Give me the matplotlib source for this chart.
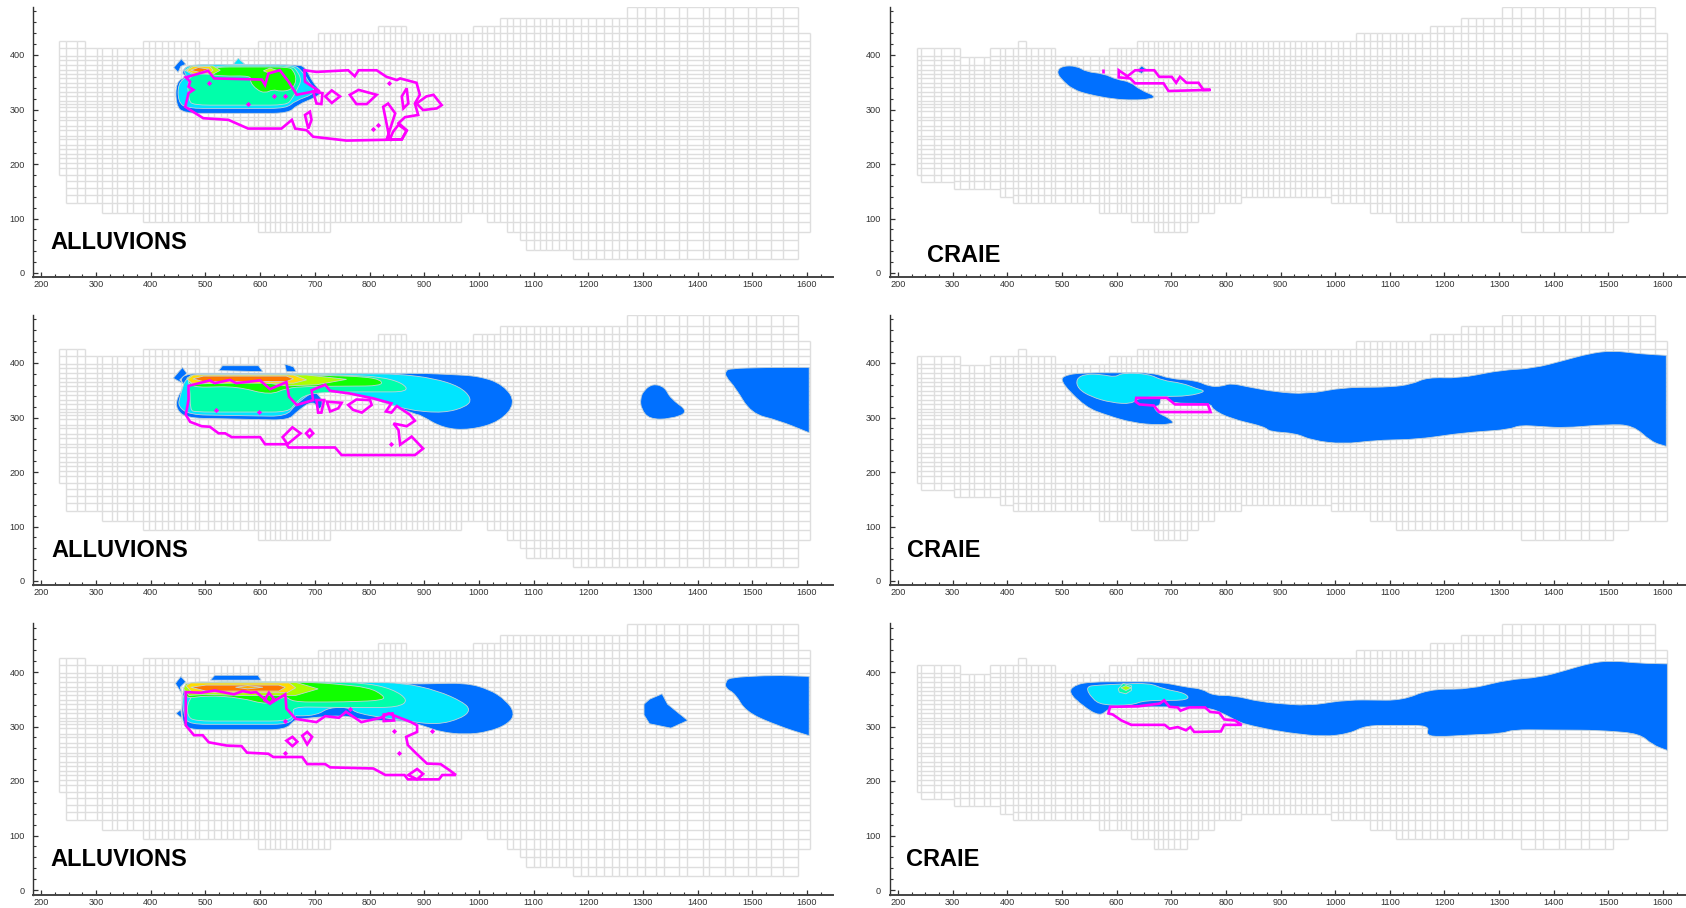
import matplotlib
matplotlib.use("Agg")
import matplotlib.pyplot as plt
from matplotlib.collections import LineCollection
from matplotlib.patches import PathPatch, Polygon
from matplotlib.path import Path
from matplotlib.ticker import MultipleLocator
import numpy as np

plt.rcParams["font.family"] = ["Liberation Sans", "DejaVu Sans"]

W, H = 1686, 908

# mesh lines
grid_x = [232, 244, 266, 278, 301, 311, 330, 339, 357, 368, 384, 396, 408, 420, 432, 443, 456, 467, 480, 490,
          505, 516, 528, 539, 551, 563, 577, 588, 600, 609, 618, 627, 637, 648, 658, 667, 676, 685, 694, 706,
          716, 726, 737, 746, 756, 767, 777, 787, 798, 807, 817, 827, 837, 847, 857, 868, 877, 886, 897, 907,
          917, 927, 938, 947, 958, 967, 981, 991, 1005, 1014, 1028, 1039, 1052, 1063, 1076, 1086, 1100, 1111,
          1123, 1134, 1147, 1159, 1173, 1186, 1200, 1215, 1229, 1243, 1257, 1270, 1290, 1304, 1324, 1339, 1366,
          1381, 1409, 1421, 1450, 1464, 1493, 1507, 1535, 1557, 1584, 1606]
grid_y = [488, 468, 454, 440, 425, 412, 399, 390, 382, 373, 366, 358, 349, 341, 333, 324, 315, 311, 305, 297,
          287, 280, 270, 263, 252, 245, 235, 228, 219, 211, 202, 193, 180, 168, 156, 144, 128, 110, 93, 76,
          60, 43, 26]

# mesh envelope, alluvions layer
all_bot_x = [232, 245, 311, 385, 596, 727, 968, 1014, 1052, 1076, 1086, 1172, 1584, 1606]
all_bot_y = [179, 128, 110, 93, 76, 93, 110, 93, 76, 60, 43, 26, 76]
all_top_x = [232, 279, 385, 488, 596, 705, 816, 867, 990, 1038, 1270, 1584, 1606]
all_top_y = [425, 412, 425, 412, 425, 440, 454, 440, 454, 468, 488, 440]

# mesh envelope, craie layer
cr_bot_x = [234, 243, 302, 386, 410, 567, 627, 668, 728, 749, 778, 828, 992, 1063, 1111, 1340, 1508, 1536, 1608]
cr_bot_y = [179, 167, 155, 139, 128, 110, 93, 76, 93, 110, 128, 139, 128, 110, 93, 76, 93, 110]
cr_top_x = [234, 313, 368, 419, 434, 488, 587, 637, 1039, 1173, 1230, 1305, 1586, 1608]
cr_top_y = [412, 396, 412, 425, 412, 398, 412, 425, 440, 454, 468, 488, 440]

x_ticks = [200, 300, 400, 500, 600, 700, 800, 900, 1000, 1100, 1200, 1300, 1400, 1500, 1600]
y_ticks = [0, 100, 200, 300, 400]

BLUE = "#0070ff"
CYAN = "#00e5ff"
SPRING = "#00ffaa"
GREEN = "#11ff00"
LIME = "#aaff00"
YELLOW = "#ffdd00"
ORANGE = "#ff7700"
PINK = "#ff00ff"

# ---- alluvions, top
a1_blue = [(446, 351), (446, 308), (460, 293), (652, 293), (667, 308), (706, 324), (712, 333), (697, 348),
           (682, 379), (667, 382), (466, 382), (456, 366), (466, 361)]
a1_diamond = [(442, 377), (456, 393), (464, 383), (455, 379), (450, 368)]
a1_bump = [(551, 383), (560, 394), (572, 383)]
a1_cyan = [(450, 348), (450, 314), (466, 302), (648, 302), (664, 316), (703, 330), (691, 348), (676, 372),
           (661, 382), (466, 382), (460, 369), (467, 361)]
a1_spring = [(467, 359), (469, 317), (478, 308), (648, 308), (658, 319), (667, 336), (676, 354), (667, 372),
             (658, 380), (514, 380), (490, 366)]
a1_green = [(514, 378), (652, 378), (661, 372), (667, 354), (658, 336), (636, 333), (624, 337), (609, 330),
            (594, 336), (581, 351), (584, 362), (530, 361), (505, 365), (490, 368)]
a1_lime = [(463, 372), (475, 380), (514, 380), (527, 372), (514, 365), (475, 365)]
a1_lime2 = [(606, 371), (618, 376), (633, 371), (618, 366)]
a1_yellow = [(466, 372), (478, 379), (508, 379), (514, 372), (505, 366), (478, 366)]
a1_orange = [(473, 372), (487, 377), (507, 374), (490, 368)]
a1_mag = [(464, 359), (505, 371), (516, 357), (603, 355), (609, 345), (615, 366), (636, 372), (652, 351),
          (667, 327), (697, 333), (709, 333), (682, 351), (681, 372), (703, 369), (761, 372), (773, 361),
          (780, 372), (813, 372), (831, 360), (850, 354), (856, 357), (886, 349), (892, 327), (883, 311),
          (889, 290), (865, 286), (853, 275), (868, 262), (859, 245), (758, 243), (697, 250), (685, 262),
          (664, 265), (658, 281), (639, 265), (578, 265), (542, 281), (496, 284), (463, 305), (469, 330),
          (478, 336), (469, 342), (472, 351)]
a1_isl1 = [(697, 333), (703, 311), (712, 310), (714, 330)]
a1_isl2 = [(719, 324), (731, 335), (746, 324), (731, 312)]
a1_isl3 = [(764, 327), (780, 336), (813, 327), (795, 310), (776, 310)]
a1_isl4 = [(859, 324), (868, 339), (871, 311), (862, 302)]
a1_isl5 = [(886, 311), (904, 324), (917, 327), (932, 308), (923, 302), (898, 299)]
a1_isl6 = [(825, 305), (834, 311), (847, 293), (837, 262), (832, 247), (837, 245)]
a1_isl7 = [(682, 290), (691, 296), (694, 281), (688, 265)]
a1_isl8 = [(843, 259), (853, 272), (868, 261), (859, 245), (837, 245)]
a1_dots = [(626, 324), (645, 324), (506, 348), (578, 311), (807, 264), (816, 272), (836, 348)]

# ---- alluvions, middle
a2_blue = [(447, 335), (447, 314), (466, 299), (652, 295), (667, 311), (697, 332), (709, 311), (716, 332),
           (697, 350), (719, 360), (764, 344), (825, 329), (886, 305), (892, 305), (935, 280), (984, 277),
           (1038, 292), (1068, 327), (1045, 360), (1002, 376), (905, 381), (466, 381), (453, 369), (463, 360)]
a2_diamond = [(441, 372), (458, 392), (466, 381), (453, 369), (463, 360)]
a2_bump1 = [(524, 386), (531, 395), (597, 395), (605, 384)]
a2_bump2 = [(645, 398), (661, 393), (666, 384), (648, 384)]
a2_cyan = [(453, 338), (450, 320), (472, 305), (648, 302), (664, 323), (691, 344), (719, 360), (764, 344),
           (825, 329), (868, 314), (935, 308), (978, 320), (987, 335), (965, 357), (917, 372), (850, 380),
           (466, 380)]
a2_spring = [(472, 354), (472, 314), (481, 310), (652, 310), (664, 326), (685, 344), (752, 347), (871, 347),
             (862, 363), (819, 375), (685, 380), (466, 378)]
a2_green = [(472, 355), (557, 357), (618, 341), (648, 354), (685, 357), (822, 358), (822, 369), (789, 375),
            (691, 378), (466, 376)]
a2_lime = [(466, 372), (475, 378), (685, 378), (758, 370), (703, 360), (648, 358), (594, 366), (475, 361)]
a2_yellow = [(467, 370), (478, 378), (661, 378), (685, 369), (661, 363), (475, 363)]
a2_orange = [(477, 371), (496, 376), (648, 376), (661, 371), (648, 366), (496, 366)]
a2_mag = [(469, 358), (508, 368), (517, 363), (545, 369), (556, 363), (600, 368), (618, 352), (648, 365),
          (653, 338), (667, 323), (697, 332), (694, 350), (719, 360), (728, 349), (764, 344), (807, 335),
          (840, 326), (830, 311), (840, 309), (850, 321), (874, 305), (883, 294), (868, 284), (844, 289),
          (853, 277), (856, 250), (877, 265), (898, 243), (883, 231), (749, 231), (737, 245), (652, 245),
          (648, 251), (609, 251), (600, 264), (548, 264), (536, 271), (524, 271), (508, 283), (493, 284),
          (472, 292), (464, 305), (469, 332)]
a2_isl1 = [(703, 332), (706, 309), (712, 309), (717, 332)]
a2_isl2 = [(722, 329), (749, 327), (743, 317), (728, 311)]
a2_isl3 = [(761, 323), (776, 333), (801, 332), (804, 323), (786, 309), (770, 314)]
a2_isl4 = [(641, 264), (659, 282), (674, 271), (650, 251)]
a2_isl5 = [(684, 271), (691, 278), (697, 271), (690, 264)]
a2_dots = [(840, 252), (519, 314), (598, 311)]

# ---- alluvions, bottom
a3_blue = [(457, 351), (457, 311), (467, 294), (646, 294), (662, 311), (672, 314), (753, 321), (791, 311),
           (867, 311), (905, 299), (930, 290), (974, 285), (1018, 290), (1054, 305), (1066, 324), (1050, 348),
           (1018, 369), (974, 380), (898, 378), (463, 382)]
a3_diamond = [(445, 379), (455, 392), (464, 382), (454, 372), (457, 360)]
a3_diamond2 = [(446, 324), (455, 331), (457, 315)]
a3_bump = [(509, 385), (517, 394), (596, 394), (602, 385)]
a3_cyan = [(457, 369), (460, 318), (472, 304), (653, 304), (665, 321), (668, 319), (704, 321), (726, 335),
           (764, 335), (777, 324), (846, 313), (924, 303), (968, 315), (985, 330), (971, 345), (924, 366),
           (861, 380), (659, 382)]
a3_spring = [(467, 348), (467, 318), (482, 310), (649, 310), (662, 321), (659, 336), (745, 335), (851, 335),
             (872, 348), (842, 369), (791, 380), (665, 382), (500, 382)]
a3_green = [(467, 351), (501, 357), (564, 353), (615, 339), (646, 357), (659, 345), (753, 345), (826, 348),
            (826, 357), (798, 372), (704, 381), (464, 381), (460, 363)]
a3_lime = [(460, 369), (464, 379), (665, 381), (706, 369), (665, 357), (564, 357), (501, 359), (470, 357)]
a3_yellow = [(464, 375), (473, 380), (653, 380), (665, 371), (649, 362), (476, 362)]
a3_orange = [(473, 372), (501, 376), (634, 376), (646, 372), (634, 365), (501, 365)]
a3_core = [(555, 372), (577, 375), (605, 372), (577, 369)]
a3_mag = [(464, 363), (492, 362), (517, 366), (552, 359), (568, 365), (583, 362), (593, 363), (618, 342),
          (646, 359), (648, 333), (665, 314), (703, 308), (719, 319), (744, 316), (757, 327), (785, 308),
          (820, 316), (835, 324), (876, 308), (887, 302), (887, 290), (867, 281), (870, 266), (886, 250),
          (905, 232), (930, 231), (946, 220), (958, 211), (933, 211), (927, 203), (870, 203), (864, 211),
          (829, 211), (807, 223), (728, 225), (719, 231), (686, 231), (677, 244), (624, 244), (615, 250),
          (576, 252), (566, 264), (539, 265), (506, 271), (495, 284), (479, 284), (464, 302)]
a3_isl1 = [(648, 274), (659, 281), (668, 272), (659, 264)]
a3_isl2 = [(677, 283), (686, 290), (695, 281), (686, 267)]
a3_isl3 = [(871, 211), (887, 222), (898, 213), (887, 203)]
a3_isl4 = [(826, 322), (842, 324), (845, 311), (826, 310)]
a3_isl5 = [(608, 348), (616, 362), (625, 351), (618, 342)]
a3_dots = [(646, 311), (645, 252), (845, 291), (854, 252), (914, 291), (765, 333)]

# far field patches, alluvions
a2_blob = [(1295, 335), (1302, 350), (1318, 362), (1340, 356), (1350, 335), (1385, 310), (1350, 297), (1312, 297), (1297, 315)]
a2_east = [(1451, 385), (1459, 390), (1537, 392), (1604, 392), (1604, 272), (1547, 295), (1498, 307), (1469, 355), (1451, 375)]
a3_blob = [(1302, 341), (1312, 350), (1335, 360), (1345, 341), (1382, 311), (1351, 297), (1312, 305), (1302, 321)]
a3_east = [(1451, 382), (1459, 390), (1537, 394), (1604, 392), (1604, 283), (1547, 301), (1488, 327), (1469, 360), (1451, 370)]

# ---- craie, top
c1_blue = [(490, 369), (500, 380), (527, 380), (545, 369), (576, 366), (600, 355), (625, 351), (643, 336),
           (673, 324), (661, 319), (631, 317), (594, 319), (551, 327), (521, 336), (500, 354)]
c1_bump = [(637, 371), (646, 380), (654, 374), (646, 366)]
c1_mag = [(604, 372), (620, 361), (634, 372), (669, 372), (678, 360), (701, 360), (709, 349), (716, 360),
          (728, 349), (750, 349), (759, 336), (772, 336), (695, 334), (686, 348), (634, 348), (625, 357), (604, 359)]
c1_tick = [(576, 374), (576, 367)]

# ---- craie, middle
c2_blue = [(495, 368), (509, 379), (543, 382), (610, 382), (668, 382), (697, 371), (746, 368), (769, 357),
           (793, 357), (808, 363), (842, 356), (890, 347), (948, 343), (1015, 355), (1102, 356), (1140, 361),
           (1169, 374), (1227, 372), (1304, 387), (1362, 390), (1420, 405), (1463, 417), (1507, 423), (1555, 417),
           (1606, 414), (1606, 247), (1579, 255), (1545, 286), (1497, 287), (1420, 281), (1381, 283), (1338, 286),
           (1319, 278), (1237, 272), (1150, 260), (1073, 258), (1015, 251), (957, 258), (928, 271), (880, 274),
           (871, 283), (808, 298), (775, 315), (773, 326), (700, 326), (692, 336), (680, 336), (680, 322),
           (667, 320), (676, 308), (692, 301), (704, 292), (702, 289), (678, 286), (630, 290), (582, 304),
           (543, 319)]
c2_cyan = [(526, 371), (543, 380), (572, 379), (598, 374), (610, 382), (659, 380), (683, 368), (721, 363),
           (746, 353), (765, 348), (731, 339), (688, 339), (639, 336), (628, 325), (591, 327), (553, 338), (529, 353)]
c2_mag = [(636, 336), (692, 336), (707, 324), (767, 324), (772, 310), (678, 310), (668, 322), (642, 324), (635, 329)]

# ---- craie, bottom
c3_blue = [(511, 363), (525, 377), (554, 382), (680, 382), (728, 372), (757, 369), (776, 357), (815, 357),
           (863, 345), (950, 338), (1022, 349), (1123, 348), (1171, 368), (1248, 369), (1316, 386), (1374, 390),
           (1422, 403), (1465, 416), (1504, 421), (1557, 416), (1608, 415), (1608, 256), (1581, 266), (1557, 287),
           (1480, 293), (1325, 294), (1306, 287), (1239, 284), (1190, 281), (1166, 284), (1173, 302), (1056, 302),
           (1027, 287), (979, 281), (901, 290), (844, 302), (824, 308), (795, 324), (767, 335), (699, 336),
           (593, 336), (583, 330), (569, 319), (540, 336)]
c3_cyan = [(543, 373), (565, 376), (660, 380), (685, 369), (728, 361), (733, 348), (651, 348), (627, 339),
           (574, 339), (555, 351)]
c3_spring = [(603, 369), (612, 379), (627, 375), (627, 366), (617, 360), (605, 363)]
c3_lime = [(608, 371), (617, 375), (627, 371), (617, 366)]
c3_mag = [(588, 336), (640, 337), (679, 342), (687, 348), (697, 336), (712, 335), (717, 329), (733, 335),
          (762, 335), (771, 327), (788, 325), (797, 313), (817, 311), (829, 303), (797, 303), (791, 291),
          (742, 290), (735, 299), (727, 293), (712, 299), (697, 296), (688, 303), (627, 303), (609, 311),
          (593, 322), (585, 324)]


def stair(xs, edges, values):
    idx = np.clip(np.searchsorted(edges, xs, side="right") - 1, 0, len(values) - 1)
    return np.array(values)[idx]


def draw_mesh(ax, bot_x, bot_y, top_x, top_y):
    edges = sorted(set(bot_x) | set(top_x))
    # drop mesh lines that nearly sit on an envelope step
    xs = edges + [x for x in grid_x if edges[0] < x < edges[-1] and min(abs(x - e) for e in edges) > 4]
    xs = np.array(sorted(xs), dtype=float)
    mid = (xs[:-1] + xs[1:]) / 2
    lo = stair(mid, bot_x, bot_y)
    hi = stair(mid, top_x, top_y)
    segs = []
    for i in range(len(mid)):
        inner = [g for g in grid_y if lo[i] + 6 < g < hi[i] - 6]
        for y in [lo[i], hi[i]] + inner:
            segs.append([(xs[i], y), (xs[i + 1], y)])
    for i, x in enumerate(xs):
        a = max(i - 1, 0)
        b = min(i, len(mid) - 1)
        segs.append([(x, min(lo[a], lo[b])), (x, max(hi[a], hi[b]))])
    ax.add_collection(LineCollection(segs, colors="#dedede", linewidths=1.0, zorder=1))


def rounded(pts, r=30):
    # round the corners of a contour, the right edge of the model stays square
    pts = np.array(pts, dtype=float)
    n = len(pts)
    verts, codes = [], []
    for i in range(n):
        v, prev, nxt = pts[i], pts[i - 1], pts[(i + 1) % n]
        if v[0] >= 1600:
            verts.append(v)
            codes.append(Path.LINETO)
            continue
        a = v + (prev - v) * min(0.5, r / np.hypot(*(prev - v)))
        b = v + (nxt - v) * min(0.5, r / np.hypot(*(nxt - v)))
        verts += [a, v, b]
        codes += [Path.LINETO, Path.CURVE3, Path.CURVE3]
    codes[0] = Path.MOVETO
    verts.append(verts[0])
    codes.append(Path.CLOSEPOLY)
    return Path(verts, codes)


def fill(ax, pts, color):
    style = dict(facecolor=color, edgecolor="#c4d2d8", linewidth=0.6, zorder=2)
    if len(pts) >= 9:
        ax.add_patch(PathPatch(rounded(pts), **style))
    else:
        ax.add_patch(Polygon(pts, closed=True, **style))


def ring(ax, pts):
    ax.add_patch(Polygon(pts, closed=True, fill=False, edgecolor=PINK, linewidth=1.9, joinstyle="miter", zorder=4))


panels = [
    dict(pos=(33, 833, 7, 277), x_ref=(41.4, 807), y_ref=(273, 55), mesh=(all_bot_x, all_bot_y, all_top_x, all_top_y),
         fills=[(a1_diamond, BLUE), (a1_bump, CYAN), (a1_blue, BLUE), (a1_cyan, CYAN), (a1_spring, SPRING),
                (a1_green, GREEN), (a1_lime, LIME), (a1_lime2, LIME), (a1_yellow, YELLOW), (a1_orange, ORANGE)],
         rings=[a1_mag, a1_isl1, a1_isl2, a1_isl3, a1_isl4, a1_isl5, a1_isl6, a1_isl7, a1_isl8], dots=a1_dots,
         label="ALLUVIONS", label_at=(216, 44)),
    dict(pos=(33, 833, 315, 585), x_ref=(41.4, 807), y_ref=(581, 363), mesh=(all_bot_x, all_bot_y, all_top_x, all_top_y),
         fills=[(a2_blob, BLUE), (a2_east, BLUE), (a2_diamond, BLUE), (a2_bump1, BLUE), (a2_bump2, BLUE), (a2_blue, BLUE),
                (a2_cyan, CYAN), (a2_spring, SPRING), (a2_green, GREEN), (a2_lime, LIME), (a2_yellow, YELLOW),
                (a2_orange, ORANGE)],
         rings=[a2_mag, a2_isl1, a2_isl2, a2_isl3, a2_isl4, a2_isl5], dots=a2_dots,
         label="ALLUVIONS", label_at=(219, 44)),
    dict(pos=(33, 833, 623, 895), x_ref=(41.4, 807), y_ref=(890, 672), mesh=(all_bot_x, all_bot_y, all_top_x, all_top_y),
         fills=[(a3_blob, BLUE), (a3_east, BLUE), (a3_diamond, BLUE), (a3_diamond2, BLUE), (a3_bump, BLUE), (a3_blue, BLUE),
                (a3_cyan, CYAN), (a3_spring, SPRING), (a3_green, GREEN), (a3_lime, LIME), (a3_yellow, YELLOW),
                (a3_orange, ORANGE), (a3_core, "#ffaa00")],
         rings=[a3_mag, a3_isl1, a3_isl2, a3_isl3, a3_isl4, a3_isl5], dots=a3_dots,
         label="ALLUVIONS", label_at=(217, 44)),
    dict(pos=(889.5, 1686, 7, 277), x_ref=(898, 1663), y_ref=(273, 55), mesh=(cr_bot_x, cr_bot_y, cr_top_x, cr_top_y),
         fills=[(c1_blue, BLUE), (c1_bump, BLUE)], rings=[c1_mag, c1_tick], dots=[],
         label="CRAIE", label_at=(253, 20)),
    dict(pos=(889.5, 1686, 315, 585), x_ref=(898, 1663), y_ref=(581, 363), mesh=(cr_bot_x, cr_bot_y, cr_top_x, cr_top_y),
         fills=[(c2_blue, BLUE), (c2_cyan, CYAN)], rings=[c2_mag], dots=[],
         label="CRAIE", label_at=(216, 44)),
    dict(pos=(889.5, 1686, 623, 895), x_ref=(898, 1663), y_ref=(890, 672), mesh=(cr_bot_x, cr_bot_y, cr_top_x, cr_top_y),
         fills=[(c3_blue, BLUE), (c3_cyan, CYAN), (c3_spring, SPRING), (c3_lime, LIME)], rings=[c3_mag], dots=[],
         label="CRAIE", label_at=(215, 44)),
]

fig = plt.figure(figsize=(W / 100, H / 100), dpi=100)

for p in panels:
    left, right, top, bottom = p["pos"]
    ax = fig.add_axes([left / W, 1 - bottom / H, (right - left) / W, (bottom - top) / H])
    ux = 1400 / (p["x_ref"][1] - p["x_ref"][0])
    uy = 400 / (p["y_ref"][0] - p["y_ref"][1])
    ax.set_xlim(200 + (left - p["x_ref"][0]) * ux, 200 + (right - p["x_ref"][0]) * ux)
    ax.set_ylim((p["y_ref"][0] - bottom) * uy, (p["y_ref"][0] - top) * uy)

    draw_mesh(ax, *p["mesh"])
    for pts, color in p["fills"]:
        fill(ax, pts, color)
    for pts in p["rings"]:
        ring(ax, pts)
    if p["dots"]:
        ax.scatter(*zip(*p["dots"]), marker="D", s=7, color=PINK, linewidths=0, zorder=4)

    ax.text(p["label_at"][0], p["label_at"][1], p["label"], fontsize=17, fontweight="bold", color="black",
            ha="left", va="baseline", zorder=5)

    for side in ["top", "right"]:
        ax.spines[side].set_visible(False)
    ax.spines["left"].set_color("#333333")
    ax.spines["bottom"].set_color("#444444")
    ax.spines["left"].set_linewidth(1.0)
    ax.spines["bottom"].set_linewidth(1.4)
    ax.set_xticks(x_ticks)
    ax.set_yticks(y_ticks)
    ax.xaxis.set_minor_locator(MultipleLocator(25))
    ax.yaxis.set_minor_locator(MultipleLocator(20))
    ax.tick_params(which="major", direction="in", length=3.5, width=0.9, color="#333333", labelsize=6.6,
                   labelcolor="#333333")
    ax.tick_params(which="minor", direction="in", length=2, width=0.8, color="#333333")
    ax.tick_params(axis="x", which="major", pad=2)
    ax.tick_params(axis="y", which="major", pad=6)

fig.savefig("out.png", dpi=100)
